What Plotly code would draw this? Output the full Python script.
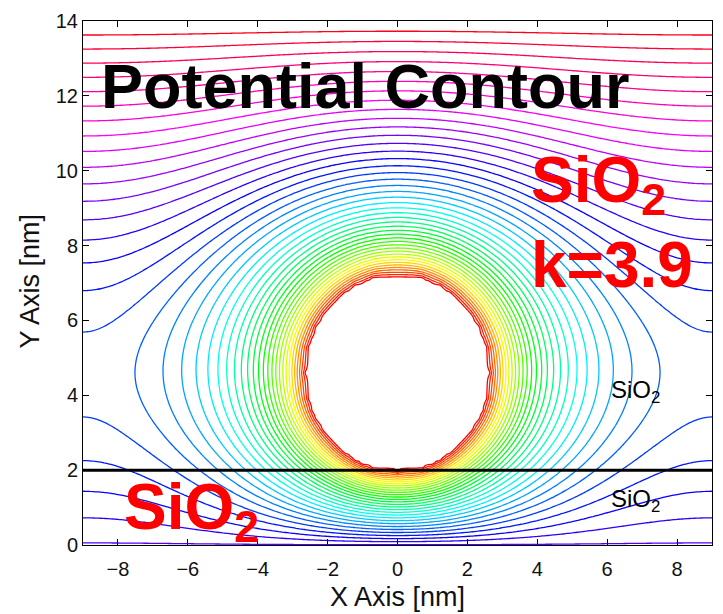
import numpy as np
import plotly.graph_objects as go

# ---- simulation domain (nm) ----
x_limits = [-9.0, 9.0]
y_limits = [0.0, 14.0]
grid_step = 0.1

# ---- spherical nanocrystal and boundary potentials (normalised) ----
dot_center_y = 4.6
dot_radius = 2.6
dot_potential = 0.0
top_gate_potential = 1.0
bottom_potential = 0.713
interface_y = 2.0

# ---- contour levels ----
n_levels = 45
level_step = 1.0 / n_levels
level_start = level_step
level_end = 1.0 - level_step

# ---- axis ticks ----
x_ticks = [-8, -6, -4, -2, 0, 2, 4, 6, 8]
y_ticks = [0, 2, 4, 6, 8, 10, 12, 14]

# ---- axisymmetric Laplace solve (r, y), red-black SOR ----
r = np.arange(0.0, x_limits[1] + 1e-9, grid_step)
y = np.arange(y_limits[0], y_limits[1] + 1e-9, grid_step)
R, Yg = np.meshgrid(r, y)
inside = R ** 2 + (Yg - dot_center_y) ** 2 <= dot_radius ** 2

V = bottom_potential + (top_gate_potential - bottom_potential) * (Yg - y_limits[0]) / (y_limits[1] - y_limits[0])
V[inside] = dot_potential
V[0, :] = bottom_potential
V[-1, :] = top_gate_potential

fixed = inside.copy()
fixed[0, :] = True
fixed[-1, :] = True
J, I = np.meshgrid(np.arange(len(r)), np.arange(len(y)))
parity = (I + J) % 2
free_inner = ~fixed[1:-1]
masks = [free_inner & (parity[1:-1] == c) for c in (0, 1)]

r_safe = np.where(r > 0, r, 1.0)
w_plus = 1.0 + grid_step / (2 * r_safe)
w_minus = 1.0 - grid_step / (2 * r_safe)

omega = 1.93
nr = len(r)
P = np.empty((len(y), nr + 2))
for _ in range(3000):
    for m in masks:
        P[:, 1:-1] = V
        P[:, 0] = V[:, 1]
        P[:, -1] = V[:, -2]
        avg = 0.25 * (w_plus * P[1:-1, 2:] + w_minus * P[1:-1, :-2] + V[2:] + V[:-2])
        avg[:, 0] = (4.0 * V[1:-1, 1] + V[2:, 0] + V[:-2, 0]) / 6.0
        inner = V[1:-1]
        inner[m] += omega * (avg[m] - inner[m])

# mirror the half-plane onto the full cross-section
x = np.concatenate([-r[:0:-1], r])
Z = np.concatenate([V[:, :0:-1], V], axis=1)

# ---- hsv colormap ----
hsv_scale = [
    [0.0, "rgb(255,0,0)"],
    [1 / 6, "rgb(255,255,0)"],
    [2 / 6, "rgb(0,255,0)"],
    [3 / 6, "rgb(0,255,255)"],
    [4 / 6, "rgb(0,0,255)"],
    [5 / 6, "rgb(255,0,255)"],
    [1.0, "rgb(255,0,24)"],
]

fig = go.Figure()
fig.add_trace(go.Contour(
    x=x, y=y, z=Z,
    zmin=0, zmax=1,
    colorscale=hsv_scale,
    showscale=False,
    contours=dict(coloring="lines", start=level_start, end=level_end, size=level_step),
    line=dict(width=1.3),
    hoverinfo="skip",
))

# dielectric interface
fig.add_trace(go.Scatter(
    x=x_limits, y=[interface_y, interface_y],
    mode="lines", line=dict(color="black", width=3),
    hoverinfo="skip", showlegend=False,
))

tick_font = dict(family="Liberation Sans, Arial", size=20, color="#111")
axis_common = dict(
    showline=True, linecolor="black", linewidth=1, mirror="ticks",
    ticks="inside", ticklen=6, tickcolor="black",
    showgrid=False, zeroline=False, tickfont=tick_font,
)
fig.update_xaxes(range=x_limits, tickvals=x_ticks, ticklabelstandoff=6, **axis_common)
fig.update_yaxes(range=y_limits, tickvals=y_ticks, **axis_common)

big_bold = dict(family="Liberation Sans, Arial", size=63, color="black")
red_bold = dict(family="Liberation Sans, Arial", size=64, color="#ff0000")
small = dict(family="Liberation Sans, Arial", size=24, color="black")

annotations = [
    dict(x=-8.55, y=12.27, text="<b>Potential Contour</b>", font=big_bold),
    dict(x=3.77, y=9.65, text="<b>SiO<sub>2</sub></b>", font=red_bold),
    dict(x=3.77, y=7.47, text="<b>k=3.9</b>", font=red_bold),
    dict(x=-7.89, y=0.9, text="<b>SiO<sub>2</sub></b>", font=red_bold),
    dict(x=6.06, y=4.1, text="SiO<sub>2</sub>", font=small),
    dict(x=6.06, y=1.2, text="SiO<sub>2</sub>", font=small),
]
for a in annotations:
    fig.add_annotation(xref="x", yref="y", xanchor="left", yanchor="middle",
                       showarrow=False, **a)

title_font = dict(family="Liberation Sans, Arial", size=27, color="#111")
fig.add_annotation(xref="paper", yref="paper", x=0.5, y=-0.099, text="X Axis [nm]",
                   showarrow=False, xanchor="center", yanchor="middle", font=title_font)
fig.add_annotation(xref="paper", yref="paper", x=-0.084, y=0.503, text="Y Axis [nm]",
                   textangle=-90, showarrow=False, xanchor="center", yanchor="middle",
                   font=title_font)

fig.update_layout(
    width=723, height=614,
    margin=dict(l=83, r=10, t=18, b=69),
    paper_bgcolor="white", plot_bgcolor="white",
    showlegend=False,
)

fig.write_html("out.html")
